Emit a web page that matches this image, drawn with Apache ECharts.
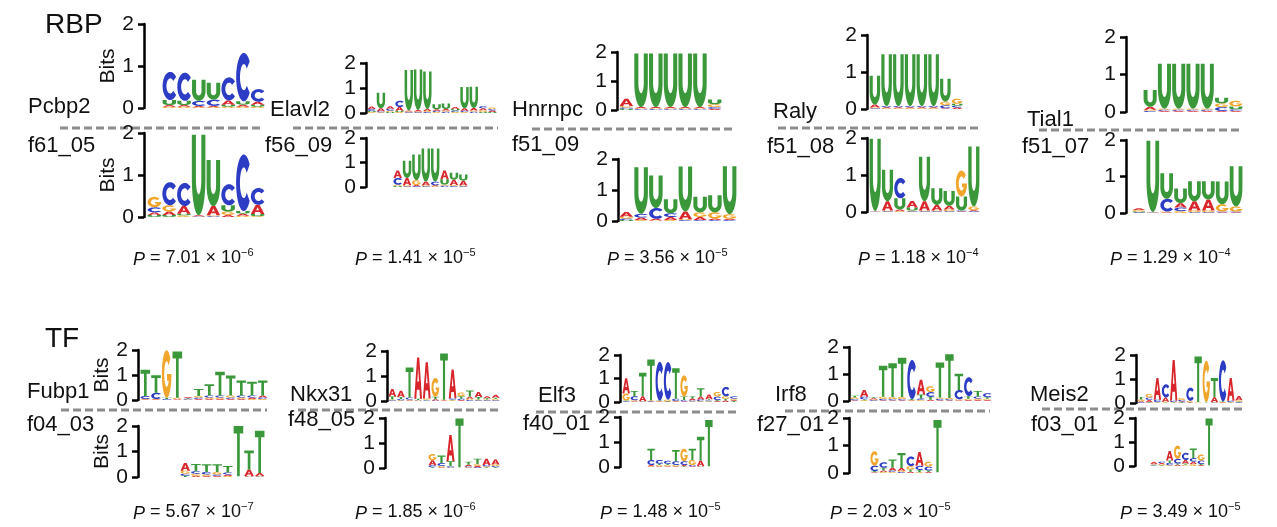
<!DOCTYPE html>
<html>
<head>
<meta charset="utf-8">
<script src="https://cdn.jsdelivr.net/npm/echarts@6/dist/echarts.min.js"></script>
<style>
  html, body { margin: 0; padding: 0; background: #fff; }
  #main { width: 1277px; height: 527px; }
</style>
</head>
<body>
<div id="main"></div>
<script>
// ---- data: letter heights (bits) per position, order A, C, G, U/T ----
var pcbp2Motif = [
  [0.04, 0.67, 0.03, 0.12], [0.04, 0.67, 0.03, 0.10], [0.03, 0.12, 0.02, 0.50],
  [0.03, 0.15, 0.02, 0.40], [0.10, 0.55, 0.03, 0.05], [0.05, 1.15, 0.03, 0.08],
  [0.07, 0.30, 0.03, 0.05]
];
var f61_05 = [
  [0.06, 0.12, 0.25, 0.05], [0.08, 0.55, 0.15, 0.05], [0.18, 0.55, 0.04, 0.04],
  [0.02, 0.01, 0.01, 1.92], [0.22, 0.02, 0.02, 1.10], [0.05, 0.50, 0.08, 0.15],
  [0.05, 1.35, 0.03, 0.06], [0.22, 0.40, 0.02, 0.05]
];
var elavl2Motif = [
  [0.10, 0.08, 0.04, 0.04], [0.12, 0.04, 0.03, 0.62], [0.10, 0.08, 0.05, 0.04],
  [0.15, 0.25, 0.04, 0.05], [0.04, 0.03, 0.03, 1.62], [0.06, 0.03, 0.03, 1.62],
  [0.08, 0.04, 0.04, 1.50], [0.06, 0.05, 0.04, 0.20], [0.06, 0.05, 0.05, 0.22],
  [0.08, 0.06, 0.04, 0.06], [0.10, 0.05, 0.04, 0.85], [0.10, 0.05, 0.05, 0.85],
  [0.08, 0.08, 0.06, 0.05], [0.06, 0.06, 0.06, 0.04]
];
var f56_09 = [
  [0.30, 0.28, 0.05, 0.04], [0.30, 0.03, 0.04, 0.70], [0.05, 0.03, 0.20, 1.05],
  [0.15, 0.03, 0.04, 1.35], [0.04, 0.15, 0.03, 1.35], [0.35, 0.05, 0.05, 0.22],
  [0.22, 0.04, 0.04, 0.28], [0.20, 0.03, 0.03, 0.25]
];
var hnrnpcMotif = [
  [0.25, 0.05, 0.05, 0.04], [0.04, 0.03, 0.03, 1.85], [0.04, 0.03, 0.03, 1.85],
  [0.04, 0.03, 0.03, 1.85], [0.04, 0.03, 0.03, 1.85], [0.04, 0.03, 0.03, 1.85],
  [0.04, 0.06, 0.10, 0.16]
];
var f51_09 = [
  [0.15, 0.05, 0.06, 0.03], [0.08, 0.12, 0.03, 1.50], [0.05, 0.35, 0.02, 1.05],
  [0.10, 0.12, 0.03, 0.45], [0.25, 0.03, 0.03, 1.45], [0.10, 0.03, 0.15, 0.50],
  [0.05, 0.03, 0.20, 0.55], [0.04, 0.03, 0.15, 1.55]
];
var ralyMotif = [
  [0.08, 0.02, 0.02, 0.78], [0.03, 0.03, 0.02, 1.40], [0.03, 0.03, 0.02, 1.40],
  [0.03, 0.03, 0.02, 1.40], [0.03, 0.03, 0.02, 1.40], [0.03, 0.03, 0.02, 1.40],
  [0.02, 0.08, 0.10, 0.62], [0.04, 0.05, 0.14, 0.05]
];
var f51_08 = [
  [0.01, 0.01, 0.01, 1.95], [0.25, 0.02, 0.02, 0.85], [0.05, 0.55, 0.02, 0.30],
  [0.18, 0.02, 0.02, 0.08], [0.25, 0.02, 0.02, 1.20], [0.15, 0.02, 0.02, 0.45],
  [0.10, 0.02, 0.05, 0.40], [0.02, 0.02, 0.70, 0.38], [0.03, 0.02, 0.10, 1.62]
];
var tial1Motif = [
  [0.08, 0.03, 0.03, 0.45], [0.03, 0.03, 0.03, 1.20], [0.03, 0.03, 0.03, 1.20],
  [0.03, 0.03, 0.03, 1.20], [0.03, 0.03, 0.03, 1.20], [0.03, 0.10, 0.10, 0.15],
  [0.03, 0.04, 0.15, 0.08]
];
var f51_07 = [
  [0.05, 0.02, 0.04, 0.02], [0.01, 0.01, 0.01, 1.95], [0.02, 0.35, 0.02, 0.70],
  [0.12, 0.10, 0.05, 0.40], [0.25, 0.02, 0.05, 0.55], [0.30, 0.02, 0.05, 0.50],
  [0.02, 0.02, 0.20, 0.62], [0.02, 0.02, 0.14, 1.10]
];
var fubp1Motif = [
  [0.02, 0.12, 0.02, 1.05], [0.02, 0.25, 0.02, 0.70], [0.01, 0.03, 1.90, 0.05],
  [0.03, 0.01, 0.05, 1.85], [0.04, 0.03, 0.02, 0.03], [0.04, 0.06, 0.06, 0.28],
  [0.04, 0.08, 0.06, 0.45], [0.04, 0.08, 0.06, 0.95], [0.04, 0.06, 0.08, 0.80],
  [0.04, 0.08, 0.06, 0.60], [0.06, 0.08, 0.04, 0.55], [0.08, 0.06, 0.04, 0.60]
];
var f04_03 = [
  [0.30, 0.08, 0.12, 0.05], [0.05, 0.10, 0.08, 0.28], [0.04, 0.10, 0.06, 0.30],
  [0.04, 0.06, 0.10, 0.30], [0.06, 0.08, 0.04, 0.25], [0.01, 0.01, 0.01, 1.97],
  [0.25, 0.02, 0.02, 0.75], [0.12, 0.02, 0.02, 1.65]
];
var nkx31Motif = [
  [0.30, 0.03, 0.03, 0.12], [0.25, 0.05, 0.03, 0.08], [0.03, 0.08, 0.03, 1.20],
  [1.65, 0.02, 0.02, 0.05], [1.45, 0.02, 0.05, 0.03], [0.05, 0.02, 0.75, 0.10],
  [0.02, 0.01, 0.02, 1.85], [1.15, 0.05, 0.03, 0.03], [0.04, 0.05, 0.15, 0.10],
  [0.08, 0.04, 0.05, 0.25], [0.20, 0.03, 0.03, 0.10], [0.08, 0.03, 0.03, 0.05],
  [0.12, 0.03, 0.05, 0.05]
];
var f48_05 = [
  [0.20, 0.08, 0.25, 0.03], [0.03, 0.12, 0.05, 0.30], [1.05, 0.05, 0.02, 0.20],
  [0.01, 0.01, 0.01, 1.95], [0.06, 0.04, 0.03, 0.12], [0.06, 0.03, 0.06, 0.22],
  [0.25, 0.05, 0.04, 0.03], [0.20, 0.05, 0.06, 0.03]
];
var elf3Motif = [
  [0.65, 0.03, 0.30, 0.03], [0.03, 0.18, 0.04, 0.22], [0.20, 0.02, 0.02, 1.00],
  [0.02, 0.02, 0.02, 1.75], [0.02, 1.65, 0.02, 0.02], [0.02, 1.60, 0.06, 0.02],
  [0.02, 0.10, 0.02, 1.30], [0.03, 0.05, 0.90, 0.15], [0.08, 0.04, 0.03, 0.10],
  [0.12, 0.08, 0.03, 0.35], [0.20, 0.04, 0.03, 0.05], [0.04, 0.15, 0.20, 0.04],
  [0.06, 0.40, 0.10, 0.08], [0.05, 0.10, 0.05, 0.04]
];
var f40_01 = [
  [0.05, 0.20, 0.03, 0.45], [0.03, 0.15, 0.05, 0.05], [0.03, 0.12, 0.05, 0.05],
  [0.03, 0.15, 0.05, 0.45], [0.05, 0.15, 0.50, 0.03], [0.03, 0.05, 0.20, 0.45],
  [0.22, 0.02, 0.02, 0.95], [0.01, 0.01, 0.01, 1.85]
];
var irf8Motif = [
  [0.03, 0.04, 0.06, 0.06], [0.25, 0.10, 0.03, 0.03], [0.04, 0.03, 0.03, 0.04],
  [0.03, 0.05, 0.08, 1.15], [0.03, 0.04, 0.08, 1.25], [0.03, 0.04, 0.08, 1.45],
  [0.02, 1.45, 0.02, 0.03], [0.55, 0.05, 0.04, 0.15], [0.05, 0.18, 0.22, 0.10],
  [0.03, 0.05, 0.05, 1.30], [0.03, 0.04, 0.04, 1.62], [0.03, 0.35, 0.03, 0.60],
  [0.04, 0.70, 0.04, 0.10], [0.04, 0.08, 0.05, 0.20], [0.04, 0.15, 0.04, 0.06]
];
var f27_01 = [
  [0.03, 0.20, 0.52, 0.04], [0.05, 0.20, 0.04, 0.10], [0.10, 0.05, 0.04, 0.30],
  [0.10, 0.04, 0.04, 0.55], [0.05, 0.35, 0.12, 0.08], [0.50, 0.15, 0.03, 0.08],
  [0.04, 0.14, 0.18, 0.05], [0.01, 0.01, 0.01, 1.90]
];
var meis2Motif = [
  [0.04, 0.03, 0.08, 0.10], [0.10, 0.10, 0.15, 0.03], [0.90, 0.10, 0.02, 0.02],
  [0.18, 0.55, 0.03, 0.02], [1.70, 0.05, 0.02, 0.02], [0.04, 0.06, 0.08, 0.03],
  [0.02, 0.55, 0.05, 0.02], [0.01, 0.01, 0.02, 1.90], [0.01, 0.01, 1.72, 0.02],
  [0.20, 0.02, 0.02, 0.80], [0.02, 1.72, 0.02, 0.02], [0.95, 0.05, 0.02, 0.02],
  [0.18, 0.03, 0.05, 0.03]
];
var f03_01 = [
  [0.10, 0.03, 0.03, 0.02], [0.05, 0.06, 0.04, 0.03], [0.40, 0.10, 0.03, 0.10],
  [0.05, 0.20, 0.55, 0.05], [0.15, 0.30, 0.05, 0.05], [0.10, 0.15, 0.08, 0.40],
  [0.04, 0.15, 0.25, 0.04], [0.01, 0.01, 0.01, 1.95]
];

var rbpProteins = ['Pcbp2', 'Elavl2', 'Hnrnpc', 'Raly', 'Tial1'];
var rbpFilters = ['f61_05', 'f56_09', 'f51_09', 'f51_08', 'f51_07'];
var rbpPValues = [['7.01', '\u22126'], ['1.41', '\u22125'], ['3.56', '\u22125'], ['1.18', '\u22124'], ['1.29', '\u22124']];
var tfProteins = ['Fubp1', 'Nkx31', 'Elf3', 'Irf8', 'Meis2'];
var tfFilters = ['f04_03', 'f48_05', 'f40_01', 'f27_01', 'f03_01'];
var tfPValues = [['5.67', '\u22127'], ['1.85', '\u22126'], ['1.48', '\u22125'], ['2.03', '\u22125'], ['3.49', '\u22125']];
var rbpMotifs = [pcbp2Motif, elavl2Motif, hnrnpcMotif, ralyMotif, tial1Motif];
var rbpFilterLogos = [f61_05, f56_09, f51_09, f51_08, f51_07];
var tfMotifs = [fubp1Motif, nkx31Motif, elf3Motif, irf8Motif, meis2Motif];
var tfFilterLogos = [f04_03, f48_05, f40_01, f27_01, f03_01];

// ---- layout (pixels): [axisX, y at 2 bits, y at 0 bits, first letter x, last letter x] ----
var rbpUpperBox = [[144, 24, 108, 162, 265], [366, 63, 113, 367, 497], [617, 52, 110, 619, 722], [867, 35, 109, 869, 963], [1126, 37, 112, 1143, 1243]];
var rbpLowerBox = [[144, 133, 217, 147, 265], [366, 138, 187, 393, 468], [618, 159, 221, 619, 737], [867, 138, 212, 869, 980], [1126, 140, 213, 1132, 1243]];
var tfUpperBox = [[138, 350, 400, 140, 268], [387, 351, 401, 388, 500], [620, 355, 402, 622, 738], [849, 347, 401, 850, 992], [1136, 355, 403, 1137, 1243]];
var tfLowerBox = [[138, 426, 477, 180, 265], [385, 418, 468, 428, 500], [620, 417, 467, 647, 713], [849, 418, 473, 870, 942], [1135, 418, 466, 1150, 1213]];
var rbpNameXY = [[28, 107], [270, 110], [512, 110], [773, 112], [1027, 120]];
var rbpFilterXY = [[28, 146], [265, 146], [512, 145], [767, 147], [1022, 147]];
var rbpDash = [[60, 263, 128], [293, 498, 128], [532, 733, 129], [778, 982, 128], [1039, 1243, 130]];
var rbpPXY = [[133, 258], [355, 258], [607, 258], [858, 258], [1110, 258]];
var tfNameXY = [[27, 392], [290, 395], [538, 396], [775, 395], [1030, 395]];
var tfFilterXY = [[27, 425], [288, 420], [523, 424], [757, 425], [1031, 425]];
var tfDash = [[61, 267, 410], [298, 502, 410], [536, 738, 412], [785, 990, 411], [1042, 1243, 409]];
var tfPXY = [[133, 512], [355, 512], [600, 512], [830, 512], [1120, 512]];

var FONT = '"Liberation Sans", Arial, Helvetica, sans-serif';
var letterColor = ['#d8262c', '#2c3cc4', '#f0a62c', '#3a983a'];

// glyph outlines on a 100x100 box, stretched to fill each letter cell
function arc(cx, cy, rx, ry, a0, a1, n) {
  var pts = [];
  for (var k = 0; k <= n; k++) {
    var a = (a0 + (a1 - a0) * k / n) * Math.PI / 180;
    pts.push([cx + rx * Math.cos(a), cy + ry * Math.sin(a)]);
  }
  return pts;
}
function poly(pts) {
  return 'M' + pts.map(function (p) { return p[0].toFixed(2) + ',' + p[1].toFixed(2); }).join('L') + 'Z';
}
var glyphs = {
  A: 'M0,100L36,0L64,0L100,100L74,100L67,78L33,78L26,100Z M39,58L61,58L50,26Z',
  C: poly(arc(50, 50, 50, 50, -40, -320, 40).concat(arc(50, 50, 25, 27, 40, 320, 40))),
  G: poly(arc(50, 50, 50, 50, -40, -360, 44).concat([[54, 50], [54, 64], [71.3, 64]]).concat(arc(50, 50, 25, 27, 31.2, 320, 40))),
  U: poly([[0, 0], [0, 55]].concat(arc(50, 55, 50, 45, 180, 0, 30)).concat([[100, 0], [70, 0], [70, 55]]).concat(arc(50, 55, 20, 19, 0, 180, 30)).concat([[30, 0]])),
  T: 'M0,0L100,0L100,15L64,15L64,100L36,100L36,15L0,15Z'
};

var grids = [], xAxes = [], yAxes = [], series = [];

function addLogo(box, rows, alphabet, withBits) {
  var idx = grids.length;
  var n = rows.length;
  var posW = (box[4] - box[3]) / n;
  var pad = (box[3] - box[0]) / posW;
  grids.push({ left: box[0], top: box[1], width: box[4] - box[0], height: box[2] - box[1] });
  xAxes.push({ type: 'value', gridIndex: idx, min: -pad, max: n, show: false });
  yAxes.push({
    type: 'value', gridIndex: idx, min: 0, max: 2, interval: 1,
    axisLine: { show: true, onZero: false, lineStyle: { color: '#000', width: 2.5 } },
    axisTick: { show: true, length: 6, lineStyle: { color: '#000', width: 2.5 } },
    axisLabel: { fontSize: 21, color: '#111', margin: 10, fontFamily: FONT },
    splitLine: { show: false },
    name: withBits ? 'Bits' : '', nameLocation: 'middle', nameRotate: 90, nameGap: 24,
    nameTextStyle: { fontSize: 21, color: '#111', fontFamily: FONT }
  });
  series.push({
    type: 'custom', xAxisIndex: idx, yAxisIndex: idx, silent: true, animation: false,
    encode: { x: 0, y: 1 },
    data: rows.map(function (r, i) { return [i].concat(r); }),
    renderItem: function (params, api) {
      var i = api.value(0);
      var letters = [0, 1, 2, 3].map(function (k) { return [k, api.value(k + 1)]; });
      letters.sort(function (a, b) { return a[1] - b[1]; });
      var x0 = api.coord([i, 0])[0], x1 = api.coord([i + 1, 0])[0];
      var gap = Math.min(0.6, (x1 - x0) * 0.05);
      var base = 0, children = [];
      letters.forEach(function (l) {
        var yb = api.coord([i, base])[1], yt = api.coord([i, base + l[1]])[1];
        base += l[1];
        if (yb - yt < 0.3) return;
        children.push({
          type: 'path',
          shape: { pathData: glyphs[alphabet[l[0]]], x: x0 + gap, y: yt, width: x1 - x0 - 2 * gap, height: yb - yt, layout: 'cover' },
          style: { fill: letterColor[l[0]] }
        });
      });
      return { type: 'group', children: children };
    }
  });
}

for (var p = 0; p < 5; p++) {
  addLogo(rbpUpperBox[p], rbpMotifs[p], 'ACGU', p === 0);
  addLogo(rbpLowerBox[p], rbpFilterLogos[p], 'ACGU', p === 0);
  addLogo(tfUpperBox[p], tfMotifs[p], 'ACGT', p === 0);
  addLogo(tfLowerBox[p], tfFilterLogos[p], 'ACGT', p === 0);
}

var graphics = [];
function label(x, y, text, size) {
  graphics.push({ type: 'text', x: x, y: y, silent: true,
    style: { text: text, fontSize: size, fill: '#111', fontFamily: FONT, verticalAlign: 'middle', align: 'left' } });
}
function dash(x0, x1, y) {
  graphics.push({ type: 'line', silent: true, shape: { x1: x0, y1: y, x2: x1, y2: y },
    style: { stroke: '#8c8c8c', lineWidth: 3, lineDash: [8, 4] } });
}
function pValue(x, y, v) {
  graphics.push({ type: 'text', x: x, y: y, silent: true,
    style: {
      text: '{i|P} = ' + v[0] + ' \u00d7 10{s|' + v[1] + '}', fontSize: 18, fill: '#111', fontFamily: FONT,
      verticalAlign: 'middle', align: 'left',
      rich: {
        i: { fontStyle: 'italic', fontSize: 18, fontFamily: FONT, lineHeight: 22, verticalAlign: 'bottom' },
        s: { fontSize: 11, fontFamily: FONT, lineHeight: 22, verticalAlign: 'top' }
      }
    } });
}

label(45, 25, 'RBP', 28);
label(45, 339, 'TF', 28);
for (var q = 0; q < 5; q++) {
  label(rbpNameXY[q][0], rbpNameXY[q][1], rbpProteins[q], 22);
  label(rbpFilterXY[q][0], rbpFilterXY[q][1], rbpFilters[q], 22);
  dash(rbpDash[q][0], rbpDash[q][1], rbpDash[q][2]);
  pValue(rbpPXY[q][0], rbpPXY[q][1], rbpPValues[q]);
  label(tfNameXY[q][0], tfNameXY[q][1], tfProteins[q], 22);
  label(tfFilterXY[q][0], tfFilterXY[q][1], tfFilters[q], 22);
  dash(tfDash[q][0], tfDash[q][1], tfDash[q][2]);
  pValue(tfPXY[q][0], tfPXY[q][1], tfPValues[q]);
}

var chart = echarts.init(document.getElementById('main'));
chart.setOption({
  backgroundColor: '#fff',
  animation: false,
  grid: grids,
  xAxis: xAxes,
  yAxis: yAxes,
  series: series,
  graphic: graphics
});
</script>
</body>
</html>
